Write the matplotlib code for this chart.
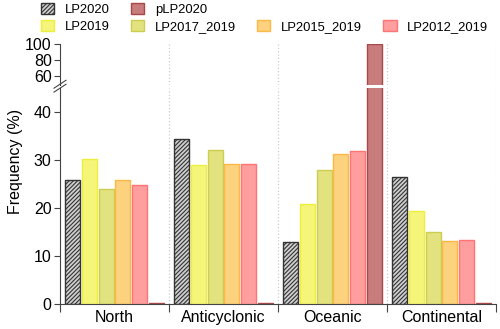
import numpy as np
import matplotlib
matplotlib.use('Agg')
import matplotlib.pyplot as plt
from matplotlib.patches import Patch

plt.rcParams['font.family'] = ['Liberation Sans', 'DejaVu Sans']

categories = ['North', 'Anticyclonic', 'Oceanic', 'Continental']
series = ['LP2020', 'LP2019', 'LP2017_2019', 'LP2015_2019', 'LP2012_2019', 'pLP2020']

lp2020 = [25.7, 34.2, 12.8, 26.5]
lp2019 = [30.2, 28.8, 20.8, 19.4]
lp2017_2019 = [24.0, 32.1, 27.8, 14.9]
lp2015_2019 = [25.8, 29.2, 31.1, 13.1]
lp2012_2019 = [24.7, 29.2, 31.7, 13.3]
plp2020 = [0.2, 0.2, 100.0, 0.2]

values = [lp2020, lp2019, lp2017_2019, lp2015_2019, lp2012_2019, plp2020]

face = ['#cfcfcf', '#f5f57a', '#e2e27e', '#fdd27e', '#ff9e9e', '#c97c7c']
edge = ['#333333', '#eeee3c', '#cdcd52', '#fbb846', '#ff7575', '#a84848']
hatch = ['////////', None, None, None, None, None]

plt.rcParams['hatch.linewidth'] = 0.8

fig = plt.figure(figsize=(5.0, 3.29), dpi=100)
ax_top = fig.add_axes([0.12, 0.742, 0.872, 0.124])
ax_bot = fig.add_axes([0.12, 0.076, 0.872, 0.658])

x = np.arange(len(categories))
step = 0.153
width = 0.138

for ax in (ax_top, ax_bot):
    for i, vals in enumerate(values):
        ax.bar(x + (i - 2.5) * step, vals, width, color=face[i],
               edgecolor=edge[i], linewidth=1.0, hatch=hatch[i], zorder=2)
    for b in np.arange(0.5, len(categories), 1.0):
        ax.axvline(b, color='#cccccc', linestyle=':', linewidth=0.9, zorder=0)
    ax.set_xlim(-0.5, len(categories) - 0.5)
    ax.spines['top'].set_visible(False)
    ax.spines['right'].set_visible(False)
    ax.spines['left'].set_color('#444444')
    ax.tick_params(axis='y', direction='out', length=4, labelsize=11.5,
                   color='#444444', pad=2)

ax_top.set_ylim(49, 100)
ax_top.set_yticks([60, 80, 100])
ax_top.spines['bottom'].set_visible(False)
ax_top.tick_params(axis='x', bottom=False, labelbottom=False)

ax_bot.set_ylim(0, 45)
ax_bot.set_yticks([0, 10, 20, 30, 40])
ax_bot.spines['bottom'].set_color('#444444')
ax_bot.set_xticks(np.arange(-0.5, len(categories), 1.0))
ax_bot.set_xticklabels([])
ax_bot.set_xticks(x, minor=True)
ax_bot.set_xticklabels(categories, minor=True, fontsize=11.5)
ax_bot.tick_params(axis='x', which='major', direction='out', length=6,
                   color='#444444')
ax_bot.tick_params(axis='x', which='minor', length=0, pad=4)
ax_bot.set_ylabel('Frequency (%)', fontsize=11.5)
ax_bot.yaxis.set_label_coords(-0.085, 0.66)

# break marks on the left spine
d = 0.012
for dy in (-0.006, 0.006):
    fig.add_artist(plt.Line2D([0.12 - d, 0.12 + d],
                              [0.738 + dy - d, 0.738 + dy + d],
                              color='#444444', linewidth=0.8))

handles = [
    Patch(facecolor=face[0], edgecolor=edge[0], hatch=hatch[0], label='LP2020'),
    Patch(facecolor=face[1], edgecolor=edge[1], label='LP2019'),
    Patch(facecolor=face[5], edgecolor=edge[5], label='pLP2020'),
    Patch(facecolor=face[2], edgecolor=edge[2], label='LP2017_2019'),
    Patch(visible=False, label=' '),
    Patch(facecolor=face[3], edgecolor=edge[3], label='LP2015_2019'),
    Patch(visible=False, label=' '),
    Patch(facecolor=face[4], edgecolor=edge[4], label='LP2012_2019'),
]
fig.legend(handles=handles, ncol=4, loc='upper left',
           bbox_to_anchor=(0.067, 1.015), frameon=False, fontsize=9.4,
           handlelength=1.0, handleheight=0.9, handletextpad=0.8,
           columnspacing=1.65, labelspacing=0.3, borderaxespad=0.2)

fig.savefig('out.png', dpi=100)
